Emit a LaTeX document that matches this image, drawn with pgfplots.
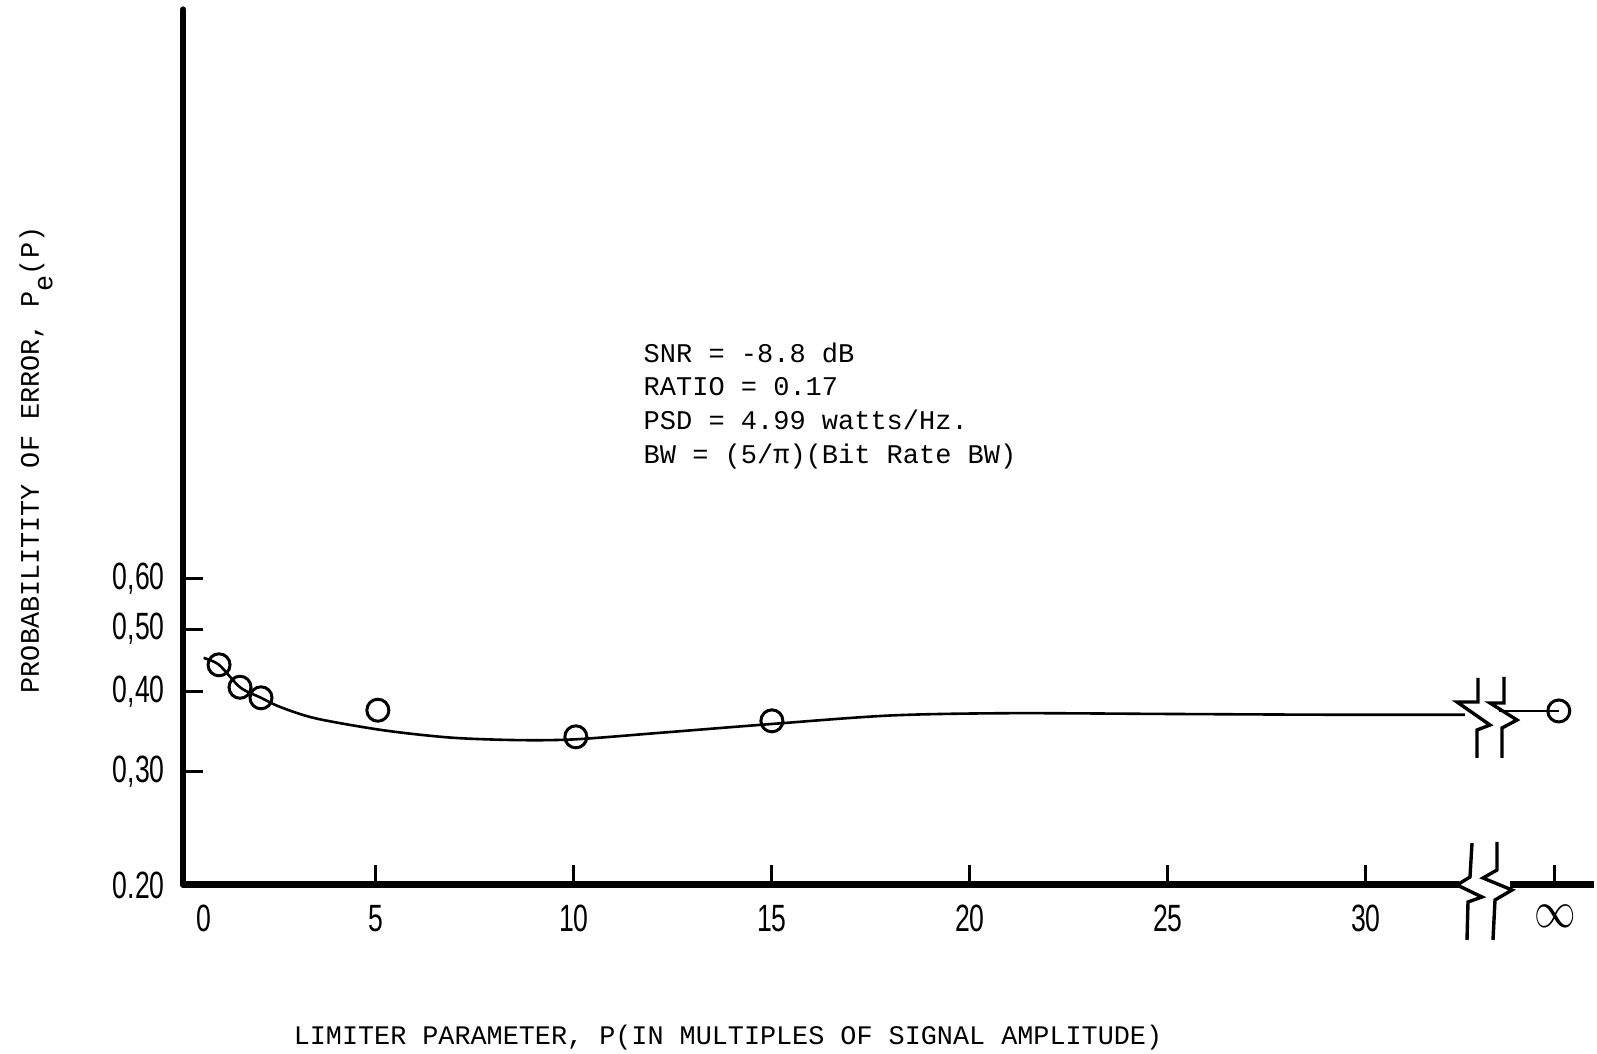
\documentclass[border=0pt]{standalone}
\usepackage{pgfplots}
\pgfplotsset{compat=1.18}
\usepackage{fontspec}
\setmainfont{Liberation Mono}
\newfontfamily\tw{Liberation Mono}
\newfontfamily\tickf[FakeStretch=0.7]{Liberation Sans}
\begin{document}
\begin{tikzpicture}
\useasboundingbox (0,0) rectangle (798.5pt,527pt);
\begin{axis}[
  at={(91.5pt,84.5pt)}, anchor=south west,
  scale only axis, width=706.3pt, height=437.8pt,
  xmin=0.13, xmax=35.8, ymin=0.2, ymax=4.6, ymode=log,
  axis lines*=left,
  x axis line style={draw=none},
  y axis line style={line width=3pt, line cap=round},
  clip=false,
  tick align=inside,
  major tick length=10pt,
  tick style={line width=1.5pt, black},
  xtick={5,10,15,20,25,30,34.77},
  xticklabels={5,10,15,20,25,30,\scalebox{1.2}[1.5]{$\infty$}},
  extra x ticks={0.65}, extra x tick labels={0},
  extra x tick style={tick style={draw=none}},
  ytick={0.2,0.3,0.4,0.5,0.6},
  yticklabels={0.20,{0,30},{0,40},{0,50},{0,60}},
  yminorticks=false,
  ticklabel style={font=\tickf\fontsize{19}{19}\selectfont, inner sep=0pt},
  yticklabel style={anchor=east, xshift=-9pt},
  xticklabel style={anchor=north, yshift=-10pt},
]
% fitted curve
\addplot[line width=1.3pt, smooth, tension=0.5] coordinates {
(0.65,0.451) (1.04,0.440) (1.57,0.406) (2.10,0.391) (2.6,0.378) (3.5,0.363) (5.2,0.348)
(6.9,0.339) (8.6,0.336) (10.05,0.337) (12.2,0.345) (15.0,0.356) (18.0,0.367)
(21.0,0.370) (25.0,0.369) (29.0,0.368) (32.5,0.368)};
% line after break to infinity point
\addplot[line width=1.3pt] coordinates {(33.35,0.373) (34.87,0.373)};
% measured points
\addplot[only marks, mark=o, mark size=5.5pt, mark options={line width=1.5pt, fill=white}] coordinates {
(1.04,0.440) (1.57,0.406) (2.10,0.391) (5.05,0.374) (10.05,0.340) (15.0,0.360) (34.87,0.373)};
\end{axis}
\begin{scope}[x=0.5pt, y=-0.5pt, yshift=527pt, line width=1.7pt, line join=miter]
% x axis segments
\draw[line width=3.5pt] (183,885) -- (1459,885);
\draw[line width=3.5pt] (1510,885) -- (1594,885);
% top break
\draw (1478,678) -- (1478,702) -- (1457,702) -- (1490,725) -- (1477,730) -- (1477,758);
\draw (1504,677) -- (1504,703) -- (1490,703) -- (1517,720) -- (1502,728) -- (1502,758);
% bottom break
\draw (1472,843) -- (1470,877) -- (1457,885) -- (1482,897) -- (1468,902) -- (1467,940);
\draw (1497,842) -- (1497,870) -- (1483,878) -- (1512,890) -- (1495,900) -- (1493,940);
% labels
\node[rotate=90, inner sep=0pt, font=\tw\fontsize{13.4}{16}\selectfont] at (36,460)
  {PROBABILITITY OF ERROR, P\raisebox{-0.5em}{e}(P)};
\node[inner sep=0pt, font=\tw\fontsize{13.4}{16}\selectfont] at (728,1038)
  {LIMITER PARAMETER, P(IN MULTIPLES OF SIGNAL AMPLITUDE)};
\node[anchor=north west, inner sep=0pt, align=left, font=\tw\fontsize{13.5}{16.8}\selectfont] at (642,341)
  {SNR = -8.8 dB\\RATIO = 0.17\\PSD = 4.99 watts/Hz.\\BW = (5/π)(Bit Rate BW)};
\end{scope}
\end{tikzpicture}
\end{document}
